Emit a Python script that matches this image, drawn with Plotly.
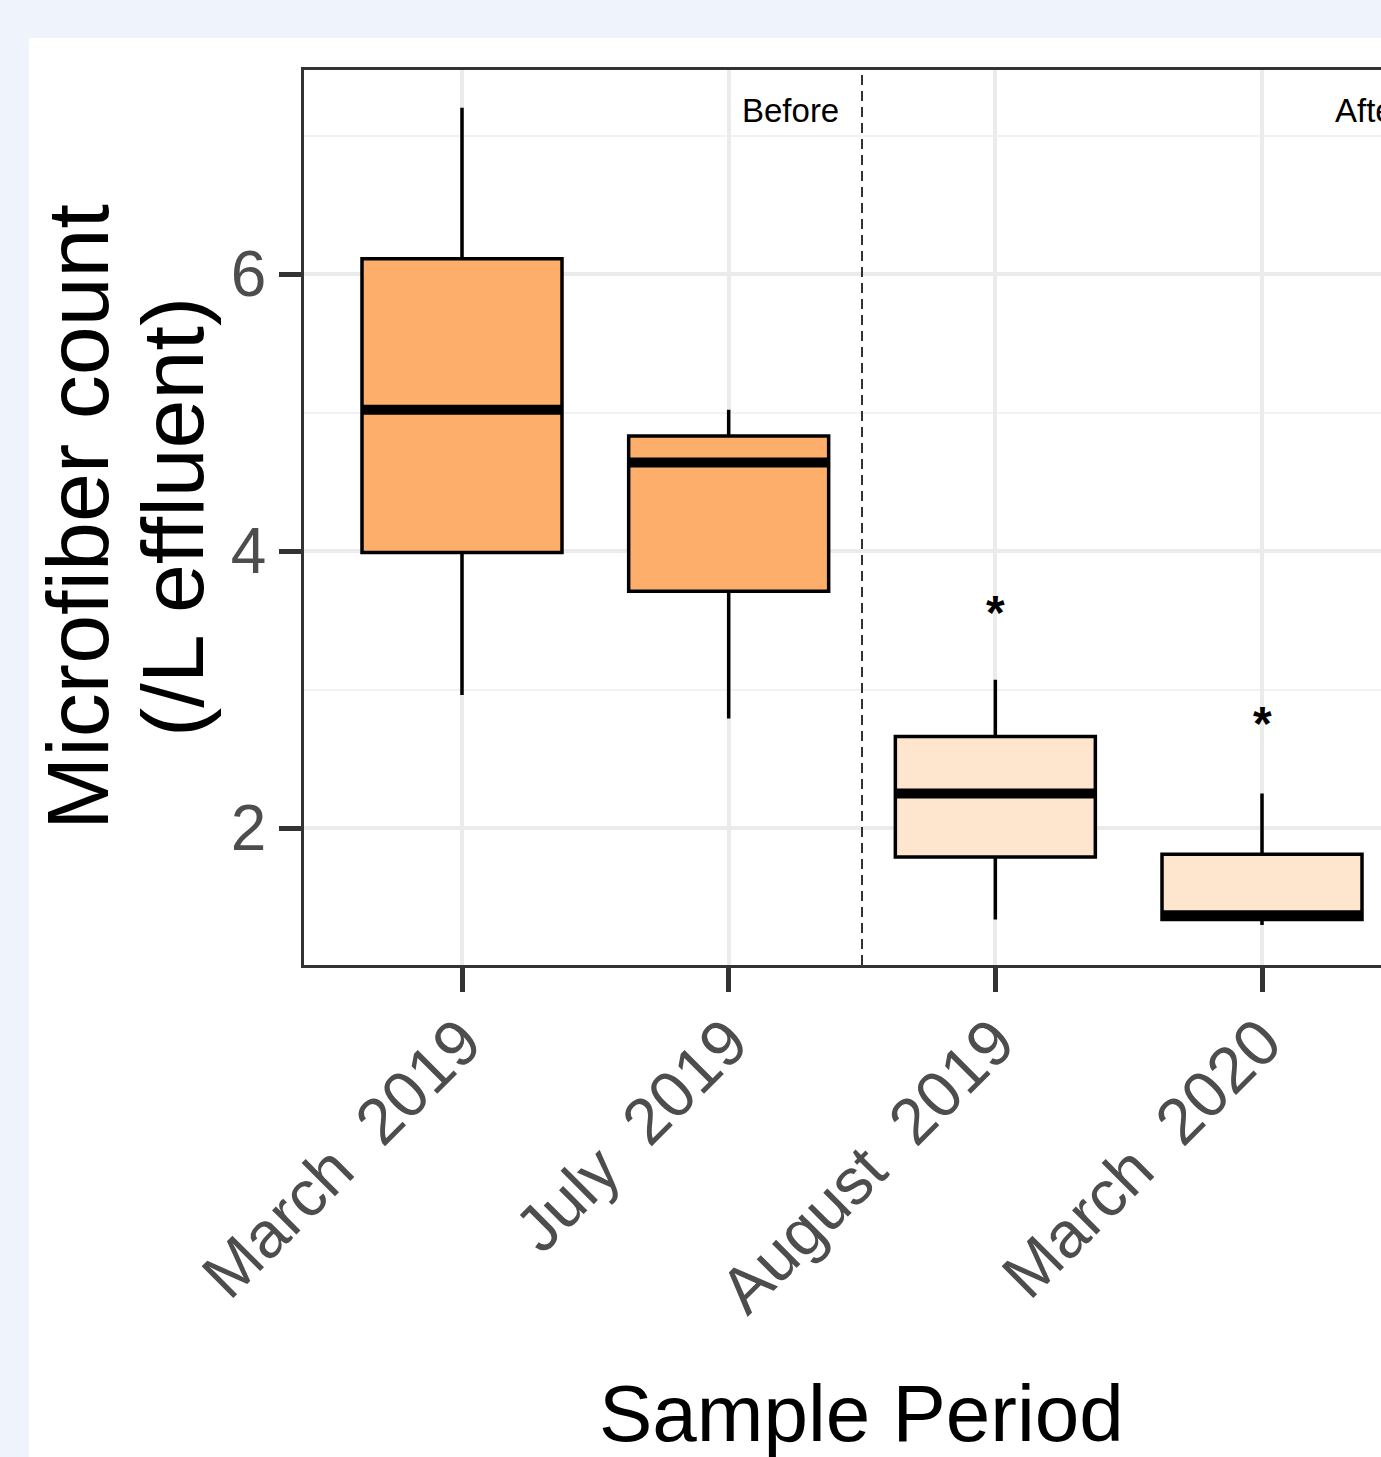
import plotly.graph_objects as go

# ---- data ----
categories = ["March 2019", "July 2019", "August 2019", "March 2020"]
period = ["Before", "Before", "After", "After"]
upper_whisker = [7.20, 5.02, 3.07, 2.25]
q3 = [6.11, 4.83, 2.66, 1.81]
median = [5.02, 4.64, 2.25, 1.37]
q1 = [3.99, 3.71, 1.79, 1.34]
lower_whisker = [2.96, 2.79, 1.34, 1.30]
sig_y = [None, None, 3.60, 2.80]   # significance asterisks
period_colors = {"Before": "#FDAE6B", "After": "#FEE6CE"}

# ---- figure ----
W, H = 1381, 1457
ML, MR, MT, MB = 304, 0, 70, 492
PW, PH = W - ML - MR, H - MT - MB

def px_x(p):
    return (p - ML) / PW

def px_y(p):
    return (H - MB - p) / PH

xs = list(range(len(categories)))
BOXW = 0.75

fig = go.Figure()
for i, cat in enumerate(categories):
    fig.add_trace(go.Box(
        x=[xs[i]], q1=[q1[i]], median=[median[i]], q3=[q3[i]],
        lowerfence=[lower_whisker[i]], upperfence=[upper_whisker[i]],
        width=BOXW, whiskerwidth=0, boxpoints=False,
        fillcolor=period_colors[period[i]],
        line=dict(color="black", width=3.5),
        name=cat, showlegend=False, hoverinfo="skip",
    ))

shapes = [
    # white panel on the light page background
    dict(type="rect", xref="paper", yref="paper", x0=px_x(29), x1=1.05,
         y0=px_y(1470), y1=px_y(38), fillcolor="white", line=dict(width=0),
         layer="below"),
    # dashed divider between Before / After
    dict(type="line", xref="x", yref="paper", x0=1.5, x1=1.5, y0=0, y1=1,
         line=dict(color="black", width=1.6, dash="10px,6px"), layer="above"),
]
# thick median bars
for i in xs:
    shapes.append(dict(type="line", xref="x", yref="y",
                       x0=i - BOXW / 2, x1=i + BOXW / 2, y0=median[i], y1=median[i],
                       line=dict(color="black", width=10), layer="above"))

FONT = "Liberation Sans, Arial"
annotations = [
    dict(text="Before", x=1.42, y=7.18, xref="x", yref="y", xanchor="right",
         yanchor="middle", showarrow=False,
         font=dict(size=33, color="black", family=FONT)),
    dict(text="After", x=3.266, y=7.18, xref="x", yref="y", xanchor="left",
         yanchor="middle", showarrow=False,
         font=dict(size=33, color="black", family=FONT)),
    dict(text="Sample Period", x=px_x(861), y=px_y(1413), xref="paper", yref="paper",
         xanchor="center", yanchor="middle", showarrow=False,
         font=dict(size=80, color="black", family=FONT)),
    dict(text="Microfiber count", x=px_x(77), y=px_y(517), xref="paper", yref="paper",
         xanchor="center", yanchor="middle", textangle=-90, showarrow=False,
         font=dict(size=88, color="black", family=FONT)),
    dict(text="(/L effluent)", x=px_x(172), y=px_y(517), xref="paper", yref="paper",
         xanchor="center", yanchor="middle", textangle=-90, showarrow=False,
         font=dict(size=88, color="black", family=FONT)),
]
for i in xs:
    if sig_y[i] is not None:
        annotations.append(dict(text="<b>*</b>", x=i, y=sig_y[i], xref="x", yref="y",
                                xanchor="center", yanchor="middle", showarrow=False,
                                yshift=-6,
                                font=dict(size=48, color="black", family=FONT)))

ticktext = [c.replace(" ", "\u00a0\u00a0") for c in categories]

fig.update_layout(
    width=W, height=H,
    margin=dict(l=ML, r=MR, t=MT, b=MB, pad=0),
    paper_bgcolor="#EEF3FC", plot_bgcolor="white",
    font=dict(family=FONT, color="#4D4D4D"),
    shapes=shapes, annotations=annotations,
    xaxis=dict(
        range=[(ML - 462) / 266.67, (W - 462) / 266.67],
        tickmode="array", tickvals=xs, ticktext=ticktext,
        tickangle=-45, tickfont=dict(size=65, color="#4D4D4D"),
        ticklabelstandoff=-14,
        ticks="outside", ticklen=24, tickwidth=5, tickcolor="#333333",
        showgrid=True, gridcolor="#EBEBEB", gridwidth=3.5,
        showline=True, linecolor="#333333", linewidth=2.5, mirror=True,
        zeroline=False,
    ),
    yaxis=dict(
        range=[1.011, 7.473],
        tickmode="array", tickvals=[2, 4, 6], ticktext=["2", "4", "6"],
        tickfont=dict(size=64, color="#4D4D4D"),
        ticks="outside", ticklen=22, tickwidth=5, tickcolor="#333333",
        showgrid=True, gridcolor="#EBEBEB", gridwidth=3.5,
        minor=dict(tickvals=[3, 5, 7], showgrid=True, gridcolor="#F2F2F2",
                   gridwidth=2, ticks=""),
        showline=True, linecolor="#333333", linewidth=2.5, mirror=False,
        zeroline=False,
    ),
)

fig.write_html(
    "out.html",
    config={"displayModeBar": False},
    post_script="document.body.style.margin='0';document.body.style.background='#EEF3FC';",
)
